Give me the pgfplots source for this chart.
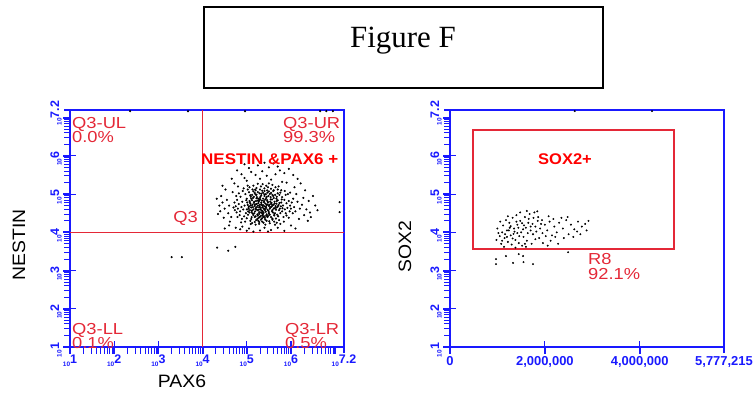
\documentclass[border=0pt]{standalone}
\usepackage{pgfplots}
\pgfplotsset{compat=1.18}
\usepackage{fontspec}
\setmainfont{Liberation Serif}
\newfontfamily\arial{Liberation Sans}
\definecolor{qred}{RGB}{228,40,55}
\definecolor{fred}{RGB}{255,0,0}
\definecolor{axblue}{RGB}{25,25,255}
\newcommand\lgt[1]{\arial\bfseries{\fontsize{6.5}{6.5}\selectfont 10}\raisebox{2.5bp}{\fontsize{12.5}{12.5}\selectfont #1}}
\newcommand\qt[1]{\scalebox{1.15}[1]{\arial\fontsize{16}{16}\selectfont #1}}
\pgfplotsset{facs/.style={
  scale only axis, width=274bp, height=237bp, clip=false,
  axis line style={axblue, line width=1.8bp},
  xtick pos=left, ytick pos=left, tick align=center,
  major tick length=12bp, minor tick length=10bp,
  tick style={axblue, line width=1.1bp},
  tick label style={axblue},
  ymin=1, ymax=7.2,
  ytick={1,2,3,4,5,6,7.2},
  yticklabels={\lgt{1},\lgt{2},\lgt{3},\lgt{4},\lgt{5},\lgt{6},\lgt{7.2}},
  yticklabel style={rotate=90, anchor=south, inner sep=2bp, xshift=-3bp},
}}
\newcommand\minors{1.301,1.477,1.602,1.699,1.778,1.845,1.903,1.954,2.301,2.477,2.602,2.699,2.778,2.845,2.903,2.954,3.301,3.477,3.602,3.699,3.778,3.845,3.903,3.954,4.301,4.477,4.602,4.699,4.778,4.845,4.903,4.954,5.301,5.477,5.602,5.699,5.778,5.845,5.903,5.954,6.301,6.477,6.602,6.699,6.778,6.845,6.903,6.954}
\begin{document}
\begin{tikzpicture}
\useasboundingbox (0,0) rectangle (756bp,-400bp);
% tick marks drawn as thin filled bars in page coordinates
\foreach \v in \minors {
  \fill[axblue] ({(70+(\v-1)*44.1935-0.5)*1bp},-347bp) rectangle ++(1bp,-6.5bp);
  \fill[axblue] (70bp,{(-347+(\v-1)*38.2258-0.5)*1bp}) rectangle ++(-6.5bp,1bp);
  \fill[axblue] (450bp,{(-347+(\v-1)*38.2258-0.5)*1bp}) rectangle ++(-6.5bp,1bp);
}
\foreach \v in {1,2,3,4,5,6,7} {
  \fill[axblue] ({(70+(\v-1)*44.1935-1)*1bp},-347bp) rectangle ++(2bp,-7bp);
  \fill[axblue] (70bp,{(-347+(\v-1)*38.2258-1)*1bp}) rectangle ++(-7bp,2bp);
  \fill[axblue] (450bp,{(-347+(\v-1)*38.2258-1)*1bp}) rectangle ++(-7bp,2bp);
}
\foreach \v in {0,2,4} {
  \fill[axblue] ({(450+\v*47.4282-1)*1bp},-347bp) rectangle ++(2bp,-7bp);
}
% title box
\draw[line width=1.6bp] (204bp,-7bp) rectangle (603bp,-88bp);
\node[anchor=base, inner sep=0] at (403bp,-47bp) {\fontsize{31}{31}\selectfont Figure F};
% left panel
\begin{axis}[facs, at={(70bp,-347bp)}, anchor=south west,
  xmin=1, xmax=7.2,
  xtick={1,2,3,4,5,6,7.2},
  xticklabels={\lgt{1},\lgt{2},\lgt{3},\lgt{4},\lgt{5},\lgt{6},\lgt{7.2}},
  xticklabel style={inner sep=2bp}]
\draw[qred, line width=1.5bp] (axis cs:4,1) -- (axis cs:4,7.2);
\draw[qred, line width=1.5bp] (axis cs:1,4) -- (axis cs:7.2,4);
\addplot[only marks, mark=*, mark size=0.85bp, mark options={draw=none, fill=black}] coordinates {
(5.35,4.70) (5.30,4.72) (5.40,4.68) (5.28,4.65) (5.42,4.75) (5.33,4.78) (5.38,4.62) (5.25,4.70) (5.45,4.71) (5.36,4.66)
(5.31,4.60) (5.44,4.64) (5.22,4.74) (5.48,4.78) (5.27,4.80) (5.39,4.82) (5.20,4.63) (5.50,4.69) (5.34,4.57) (5.41,4.58)
(5.29,4.85) (5.46,4.84) (5.18,4.69) (5.52,4.62) (5.24,4.58) (5.37,4.88) (5.43,4.54) (5.32,4.52) (5.55,4.74) (5.16,4.77)
(5.26,4.88) (5.47,4.59) (5.21,4.82) (5.53,4.80) (5.35,4.50) (5.15,4.60) (5.56,4.67) (5.30,4.90) (5.44,4.90) (5.19,4.55)
(5.50,4.53) (5.58,4.58) (5.13,4.72) (5.40,4.95) (5.28,4.48) (5.23,4.92) (5.57,4.86) (5.12,4.84) (5.49,4.95) (5.60,4.72)
(5.10,4.65) (5.36,4.46) (5.45,4.47) (5.17,4.50) (5.62,4.63) (5.33,4.97) (5.25,4.44) (5.54,4.92) (5.08,4.75) (5.63,4.80)
(5.39,4.42) (5.14,4.90) (5.59,4.52) (5.31,4.42) (5.48,4.43) (5.07,4.58) (5.65,4.69) (5.22,4.98) (5.43,5.00) (5.11,4.53)
(5.61,4.90) (5.05,4.68) (5.67,4.75) (5.29,5.02) (5.52,4.46) (5.20,4.42) (5.06,4.82) (5.66,4.59) (5.37,5.03) (5.58,4.98)
(5.04,4.62) (5.69,4.66) (5.15,4.45) (5.47,5.04) (5.27,4.38) (5.41,4.38) (5.09,4.93) (5.64,4.50) (5.02,4.72) (5.70,4.84)
(5.34,4.36) (5.55,4.40) (5.18,5.03) (5.62,4.44) (5.03,4.55) (5.72,4.72) (5.24,4.35) (5.50,5.07) (5.12,4.98) (5.68,4.93)
(5.33,4.74) (5.37,4.71) (5.29,4.68) (5.43,4.67) (5.26,4.76) (5.46,4.73) (5.32,4.64) (5.39,4.79) (5.23,4.66) (5.51,4.72)
(5.34,4.83) (5.41,4.61) (5.27,4.59) (5.36,4.55) (5.47,4.81) (5.19,4.73) (5.53,4.66) (5.30,4.86) (5.42,4.86) (5.21,4.60)
(5.56,4.77) (5.25,4.83) (5.38,4.51) (5.49,4.56) (5.17,4.80) (5.58,4.70) (5.31,4.93) (5.45,4.93) (5.14,4.66) (5.61,4.62)
(5.28,4.53) (5.40,4.99) (5.22,4.89) (5.54,4.86) (5.12,4.57) (5.63,4.75) (5.35,4.44) (5.50,4.49) (5.16,4.93) (5.60,4.95)
(5.09,4.70) (5.66,4.64) (5.24,4.47) (5.44,4.43) (5.20,4.99) (5.57,4.55) (5.07,4.79) (5.68,4.82) (5.33,5.01) (5.52,5.00)
(5.13,4.49) (5.62,4.48) (5.04,4.66) (5.71,4.69) (5.29,4.40) (5.47,4.40) (5.10,4.88) (5.67,4.88) (5.37,4.40) (5.25,5.05)
(5.55,5.03) (5.06,4.52) (5.73,4.58) (5.40,5.08) (5.18,4.40) (5.64,4.98) (5.01,4.78) (5.74,4.77) (5.32,4.33) (5.58,4.36)
(5.15,5.07) (5.69,4.46) (5.00,4.60) (5.77,4.68) (5.42,4.33) (5.21,4.32) (5.61,5.10) (5.08,4.97) (5.79,4.86) (5.35,5.09)
(4.99,4.84) (5.76,4.50) (5.28,4.27) (5.51,4.29) (5.11,4.40) (5.70,5.02) (5.46,5.10) (5.03,4.46) (5.81,4.63) (5.19,5.12)
(4.95,4.70) (5.75,4.62) (4.98,4.50) (5.78,4.78) (5.00,4.88) (5.80,4.55) (4.92,4.60) (5.74,4.98) (5.05,5.05) (5.82,4.70)
(4.90,4.80) (5.71,4.42) (5.10,4.35) (5.85,4.85) (4.88,4.66) (5.60,5.08) (5.20,5.10) (5.86,4.60) (4.94,4.42) (5.76,5.04)
(5.30,5.12) (5.88,4.50) (4.86,4.93) (5.66,4.36) (5.40,5.15) (5.90,4.76) (4.85,4.55) (5.58,4.33) (5.13,5.12) (5.92,4.64)
(4.97,5.00) (5.45,4.30) (5.26,4.30) (5.80,4.92) (4.82,4.74) (5.35,4.28) (5.55,5.14) (5.95,4.82) (4.84,4.45) (5.70,5.12)
(5.08,4.30) (5.97,4.55) (4.80,4.62) (5.18,4.27) (5.62,4.28) (5.88,4.98) (4.91,5.08) (5.48,5.18) (5.00,4.37) (5.83,4.40)
(5.22,5.16) (5.98,4.70) (4.78,4.85) (5.38,4.25) (5.73,4.32) (5.02,5.12) (5.65,5.18) (4.77,4.52) (6.00,4.62) (5.12,4.24)
(5.90,4.44) (4.89,4.35) (5.52,4.24) (5.32,5.20) (5.93,5.00) (4.75,4.68) (5.44,5.22) (5.78,5.10) (5.06,5.18) (4.96,4.28)
(6.02,4.78) (5.28,4.22) (5.68,4.25) (4.82,5.02) (5.86,5.08) (5.15,5.22) (4.73,4.58) (6.04,4.50) (5.42,4.20) (5.58,5.24)
(4.87,4.26) (5.95,4.38) (5.02,5.22) (5.76,4.22) (5.20,4.20) (6.05,4.88) (4.72,4.78) (5.36,5.26) (5.84,4.28) (4.79,4.40)
(5.64,4.20) (4.93,5.15) (5.98,5.04) (5.09,4.22) (5.50,5.28) (4.70,4.65) (6.07,4.66) (5.25,5.27) (5.72,5.20) (4.76,4.95)
(4.60,4.70) (6.10,4.55) (4.65,4.40) (6.15,4.80) (4.55,4.85) (6.12,5.00) (4.68,5.05) (6.20,4.62) (4.58,4.50) (5.30,5.40)
(5.55,5.38) (5.00,5.35) (5.80,5.32) (4.80,5.20) (6.18,4.35) (4.62,4.28) (5.40,4.12) (5.70,4.12) (5.05,4.10) (4.90,4.15)
(6.00,4.18) (4.50,4.62) (6.25,4.72) (5.45,5.48) (5.20,5.50) (5.65,5.52) (4.95,5.42) (5.90,5.30) (4.45,4.78) (6.28,4.90)
(4.72,5.28) (6.08,5.18) (5.35,5.60) (5.75,5.62) (5.10,5.58) (4.85,4.08) (5.55,4.06) (6.10,4.10) (4.48,4.38) (6.30,4.45)
(4.42,4.95) (5.50,5.70) (5.25,5.75) (5.85,5.55) (4.88,5.52) (6.22,5.28) (4.66,5.40) (4.40,4.55) (6.35,4.60) (5.00,4.04)
(5.30,4.05) (5.85,4.04) (4.75,4.12) (6.40,4.82) (4.52,5.12) (6.15,5.40) (5.60,5.80) (5.05,5.68) (4.38,4.70) (6.45,4.40)
(5.40,5.82) (4.60,4.18) (6.05,5.50) (4.95,5.78) (6.50,4.95) (4.45,5.22) (5.70,5.72) (6.32,5.10) (4.35,4.48) (6.43,4.52)
(5.15,4.02) (5.95,5.66) (4.78,5.62) (6.38,4.30) (4.32,4.88) (5.48,4.02) (6.55,4.70) (4.50,4.10) (6.60,4.58)
(7.10,4.79) (7.10,4.53) (2.36,7.17) (3.67,7.17) (4.96,7.17) (6.66,7.17) (6.80,7.17) (6.95,7.17)
(3.30,3.35) (3.53,3.35) (4.33,3.60) (4.58,3.52) (4.74,3.62)
};
\end{axis}
% right panel
\begin{axis}[facs, at={(450bp,-347bp)}, anchor=south west,
  xmin=0, xmax=5.777215,
  xtick={0,2,4,5.777215},
  xticklabels={0,{2,000,000},{4,000,000},{5,777,215}},
  xticklabel style={font=\arial\bfseries\fontsize{13}{13}\selectfont, inner sep=3bp}]
\draw[qred, line width=1.5bp] (axis cs:0.485,3.56) rectangle (axis cs:4.723,6.68);
\addplot[only marks, mark=*, mark size=0.75bp, mark options={draw=none, fill=black}] coordinates {
(1.20,4.05) (1.35,4.10) (1.50,4.00) (1.28,3.92) (1.42,4.20) (1.60,4.12) (1.15,3.85) (1.55,3.88) (1.70,4.05) (1.38,3.80)
(1.25,4.25) (1.48,4.30) (1.65,4.25) (1.80,4.15) (1.10,4.00) (1.32,4.38) (1.58,4.40) (1.75,3.95) (1.90,4.10) (1.05,3.90)
(1.45,3.72) (1.62,3.78) (1.22,3.75) (1.85,4.30) (1.95,3.98) (2.00,4.20) (1.12,4.18) (1.40,4.45) (1.78,4.52) (1.68,4.48)
(1.30,3.68) (1.52,3.65) (1.08,3.70) (2.05,4.05) (2.10,4.28) (1.88,3.85) (1.72,3.70) (1.00,4.10) (0.98,3.80) (2.15,3.92)
(2.20,4.15) (1.18,4.32) (1.36,4.02) (1.44,4.12) (1.56,4.18) (1.26,4.12) (1.34,3.96) (1.46,3.90) (1.64,3.98) (1.74,4.22)
(1.82,4.02) (1.92,4.22) (2.02,3.90) (1.16,3.95) (1.24,4.05) (1.54,4.08) (1.66,4.35) (1.86,4.40) (2.25,4.00) (2.30,4.25)
(2.38,4.10) (2.45,4.32) (2.50,3.95) (2.55,4.20) (2.62,4.08) (2.70,4.28) (2.78,4.15) (2.85,4.22) (2.92,4.30) (2.60,3.88)
(2.40,3.85) (2.48,4.40) (2.68,4.02) (2.88,4.05) (2.35,4.38) (2.75,3.95) (1.06,4.28) (1.14,3.62) (1.38,3.60) (1.60,3.62)
(1.96,3.72) (2.12,3.78) (2.28,3.70) (1.48,4.52) (1.62,4.56) (1.84,4.55) (1.22,4.42) (2.08,4.42) (1.02,3.98) (1.28,4.16)
(1.40,4.28) (1.52,4.24) (1.70,4.15) (1.76,4.38) (1.94,4.32) (2.18,4.35) (1.10,3.78) (1.32,3.84) (1.58,3.70) (1.80,3.82)
(2.06,3.65) (2.22,3.88) (1.42,3.98) (1.20,3.88)
(0.97,3.30) (0.97,3.17) (1.18,3.38) (1.33,3.20) (1.45,3.43) (1.54,3.38) (1.55,3.22) (1.75,3.17) (2.49,3.48)
(2.63,7.17) (4.26,7.17)
};
\end{axis}
% left panel texts
\node[anchor=base west, inner sep=0, text=qred] at (72bp,-128bp) {\qt{Q3-UL}};
\node[anchor=base west, inner sep=0, text=qred] at (72bp,-142bp) {\qt{0.0\%}};
\node[anchor=base west, inner sep=0, text=qred] at (283bp,-128bp) {\qt{Q3-UR}};
\node[anchor=base west, inner sep=0, text=qred] at (283bp,-142bp) {\qt{99.3\%}};
\node[anchor=base west, inner sep=0, text=qred] at (72bp,-334bp) {\qt{Q3-LL}};
\node[anchor=base west, inner sep=0, text=qred] at (72bp,-348bp) {\qt{0.1\%}};
\node[anchor=base west, inner sep=0, text=qred] at (285bp,-334bp) {\qt{Q3-LR}};
\node[anchor=base west, inner sep=0, text=qred] at (285bp,-348bp) {\qt{0.5\%}};
\node[anchor=base east, inner sep=0, text=qred] at (198bp,-222bp) {\qt{Q3}};
\node[anchor=base west, inner sep=0, text=fred] at (201bp,-164bp) {\scalebox{1.1}[1]{\arial\bfseries\fontsize{15.5}{15.5}\selectfont NESTIN \&PAX6 +}};
\node[anchor=base, inner sep=0] at (182bp,-387bp) {\scalebox{1.08}[1]{\arial\fontsize{18}{18}\selectfont PAX6}};
\node[anchor=base, inner sep=0, rotate=90] at (25bp,-245bp) {\scalebox{1.08}[1]{\arial\fontsize{18}{18}\selectfont NESTIN}};
% right panel texts
\node[anchor=base, inner sep=0, rotate=90] at (411bp,-247bp) {\scalebox{1.08}[1]{\arial\fontsize{18}{18}\selectfont SOX2}};
\node[anchor=base, inner sep=0, text=fred] at (565bp,-164bp) {\scalebox{1.07}[1]{\arial\bfseries\fontsize{15.5}{15.5}\selectfont SOX2+}};
\node[anchor=base west, inner sep=0, text=qred] at (588bp,-264bp) {\qt{R8}};
\node[anchor=base west, inner sep=0, text=qred] at (588bp,-279bp) {\qt{92.1\%}};
\end{tikzpicture}
\end{document}
